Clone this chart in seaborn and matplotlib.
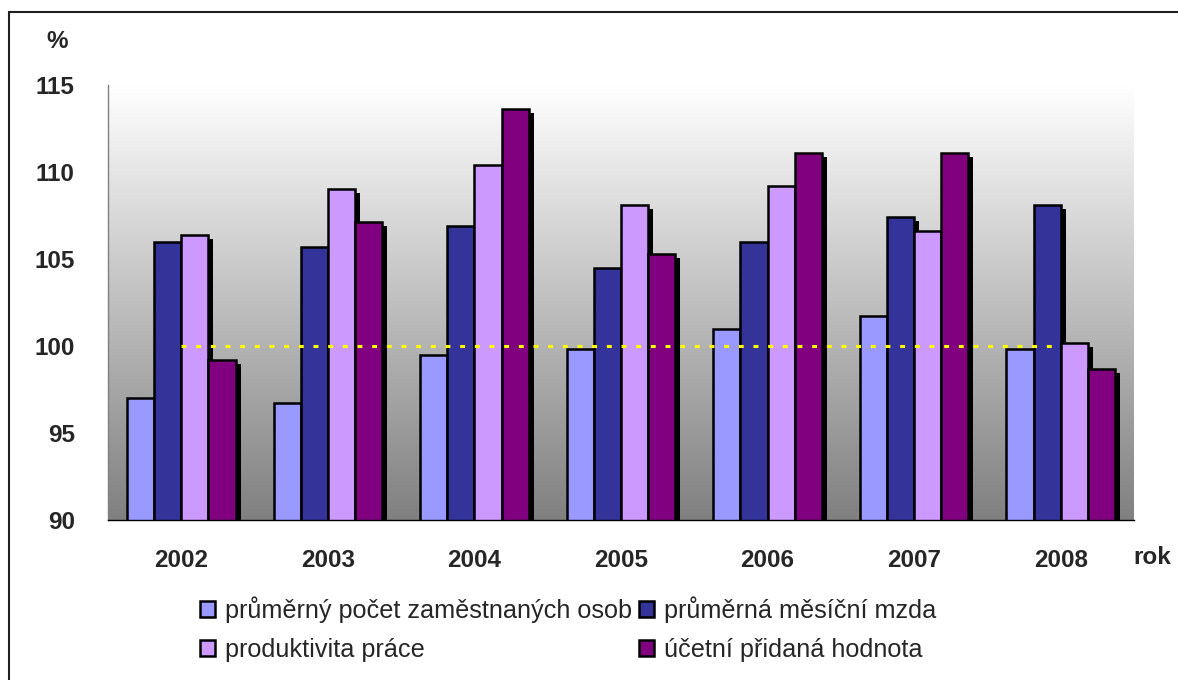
import numpy as np
import pandas as pd
import matplotlib
matplotlib.use("Agg")
import matplotlib.pyplot as plt
import matplotlib.patheffects as pe
from matplotlib.colors import LinearSegmentedColormap
from matplotlib.patches import Patch, Rectangle
import seaborn as sns

# data
roky = ["2002", "2003", "2004", "2005", "2006", "2007", "2008"]
zamestnanci = [97.0, 96.7, 99.5, 99.8, 101.0, 101.7, 99.8]
mzda = [106.0, 105.7, 106.9, 104.5, 106.0, 107.4, 108.1]
produktivita = [106.4, 109.0, 110.4, 108.1, 109.2, 106.6, 100.2]
pridana = [99.2, 107.1, 113.6, 105.3, 111.1, 111.1, 98.7]

nazvy = ["průměrný počet zaměstnaných osob", "průměrná měsíční mzda",
         "produktivita práce", "účetní přidaná hodnota"]
barvy = ["#9999FF", "#333399", "#CC99FF", "#800080"]

df = pd.DataFrame({
    "rok": roky * 4,
    "hodnota": zamestnanci + mzda + produktivita + pridana,
    "ukazatel": np.repeat(nazvy, len(roky)),
})

sns.set_style("white")
plt.rcParams["font.family"] = ["Liberation Sans", "DejaVu Sans"]

fig = plt.figure(figsize=(11.78, 6.8), dpi=100)
ax = fig.add_axes([108 / 1178, 160 / 680, 1026 / 1178, 435 / 680])

# gradient background white -> gray
cmap = LinearSegmentedColormap.from_list("bg", ["#808080", "#ffffff"])
ax.imshow(np.linspace(0, 1, 256).reshape(-1, 1), cmap=cmap, origin="lower",
          extent=[-0.5, 6.5, 90, 115], aspect="auto", zorder=0)

sns.barplot(data=df, x="rok", y="hodnota", hue="ukazatel", hue_order=nazvy,
            palette=barvy, width=0.74, edgecolor="black", linewidth=1.8,
            saturation=1, legend=False, ax=ax, zorder=2)

for p in ax.patches:
    p.set_path_effects([pe.SimplePatchShadow(offset=(3.6, -2.9), shadow_rgbFace="black", alpha=1),
                        pe.Normal()])

# 100 % reference line
ax.plot([0, 5.94], [100, 100], color="yellow", lw=2.2, ls=(0, (1.6, 3.2)), zorder=5)

ax.set_xlim(-0.5, 6.5)
ax.set_ylim(90, 115)
ax.set_yticks([90, 95, 100, 105, 110, 115])
ax.set_xticks(range(len(roky)))
ax.set_xticklabels(roky)
ax.set_xticks(np.arange(-0.5, 7, 1), minor=True)
ax.set_xlabel("")
ax.set_ylabel("")

for s in ["top", "right"]:
    ax.spines[s].set_visible(False)
ax.spines["left"].set_color("#808080")
ax.spines["left"].set_linewidth(1)
ax.spines["bottom"].set_color("black")
ax.spines["bottom"].set_linewidth(1)

ax.tick_params(axis="y", which="major", direction="out", length=6, width=1,
               color="#808080", pad=18, labelsize=17.5)
ax.tick_params(axis="x", which="major", length=0, pad=21, labelsize=17.5)
ax.tick_params(axis="x", which="minor", direction="out", length=7, width=1, color="#808080")
for lab in ax.get_xticklabels() + ax.get_yticklabels():
    lab.set_fontweight("bold")

fig.text(57 / 1178, 1 - 42 / 680, "%", fontsize=17.5, fontweight="bold", ha="center", va="center")
fig.text(1152 / 1178, 1 - 557 / 680, "rok", fontsize=17.5, fontweight="bold", ha="center", va="center")

# legend: row 1 = osob, mzda ; row 2 = produktivita, hodnota
poradi = [0, 2, 1, 3]
handles = [Patch(facecolor=barvy[i], edgecolor="black", linewidth=1.8) for i in poradi]
fig.legend(handles, [nazvy[i] for i in poradi], ncol=2, loc="upper left",
           bbox_to_anchor=(200 / 1178, 1 - 596 / 680), frameon=False, fontsize=18.2,
           handlelength=0.6, handleheight=0.6, handletextpad=0.4,
           columnspacing=0.25, labelspacing=0.6, borderpad=0, borderaxespad=0)

# outer frame
fig.patches.append(Rectangle((9 / 1178, -0.1), 1.2, 0.1 + 1 - 12 / 680, transform=fig.transFigure,
                             fill=False, edgecolor="#202020", linewidth=1.5))

fig.savefig("out.png", dpi=100)
